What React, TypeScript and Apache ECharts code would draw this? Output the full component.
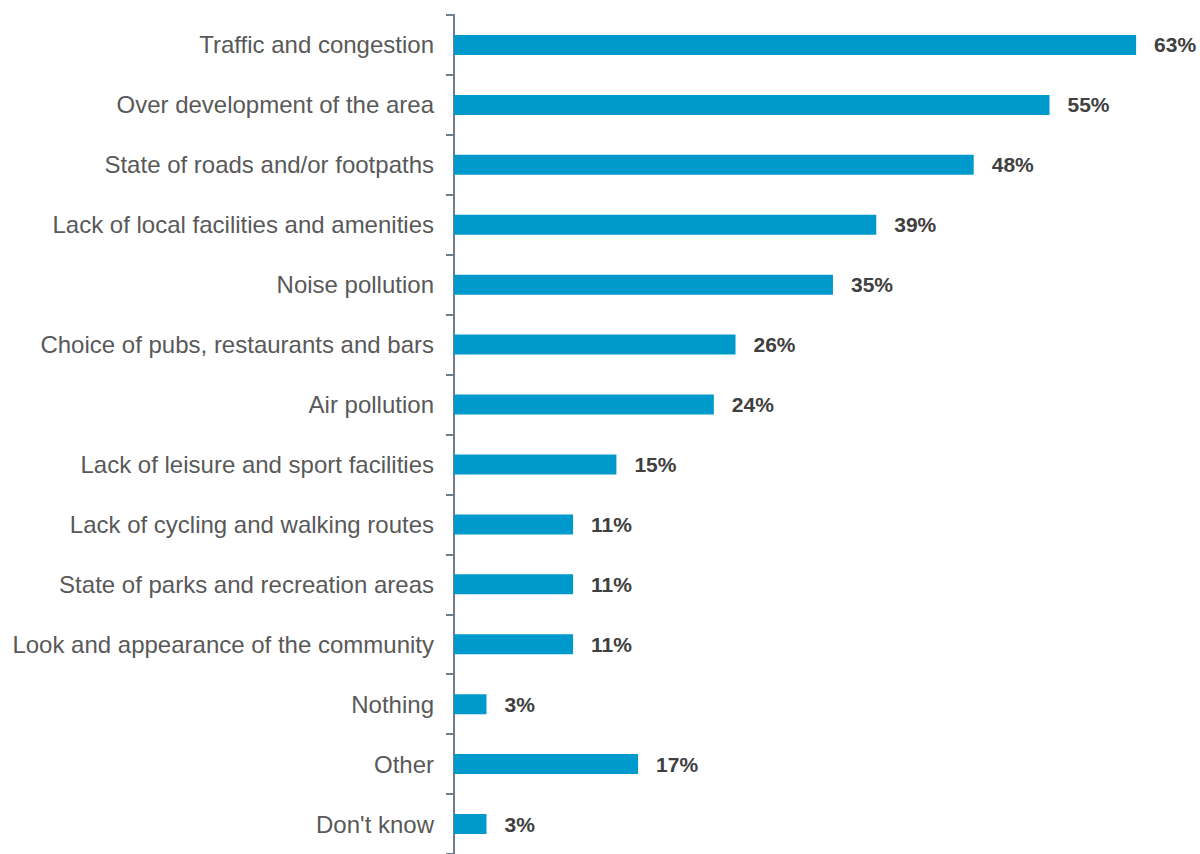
import React, { useEffect, useRef } from "react";
import * as echarts from "echarts";

const categories = [
  "Traffic and congestion",
  "Over development of the area",
  "State of roads and/or footpaths",
  "Lack of local facilities and amenities",
  "Noise pollution",
  "Choice of pubs, restaurants and bars",
  "Air pollution",
  "Lack of leisure and sport facilities",
  "Lack of cycling and walking routes",
  "State of parks and recreation areas",
  "Look and appearance of the community",
  "Nothing",
  "Other",
  "Don't know",
];
const values = [63, 55, 48, 39, 35, 26, 24, 15, 11, 11, 11, 3, 17, 3];

export default function App() {
  const ref = useRef<HTMLDivElement>(null);
  useEffect(() => {
    document.body.style.margin = "0";
    const chart = echarts.init(ref.current!, null, { renderer: "svg" });
    chart.setOption({
      animation: false,
      grid: { left: 454, top: 15, right: 0, height: 840, containLabel: false },
      xAxis: { type: "value", min: 0, max: 68.9, show: false },
      yAxis: {
        type: "category",
        data: categories,
        inverse: true,
        axisLine: { show: true, lineStyle: { color: "#6E7E8E", width: 2 } },
        axisTick: { show: true, length: 8, lineStyle: { color: "#6E7E8E", width: 2 } },
        axisLabel: {
          color: "#595959",
          fontSize: 24,
          fontFamily: "Liberation Sans, Arial, sans-serif",
          margin: 20,
        },
        splitLine: { show: false },
      },
      series: [
        {
          type: "bar",
          data: values,
          barWidth: 20,
          itemStyle: { color: "#0099CC" },
          label: {
            show: true,
            position: "right",
            distance: 18,
            formatter: "{c}%",
            color: "#404040",
            fontWeight: "bold",
            fontSize: 21,
            fontFamily: "Liberation Sans, Arial, sans-serif",
          },
        },
      ],
    });
    return () => chart.dispose();
  }, []);
  return <div ref={ref} style={{ width: 1200, height: 854 }} />;
}
